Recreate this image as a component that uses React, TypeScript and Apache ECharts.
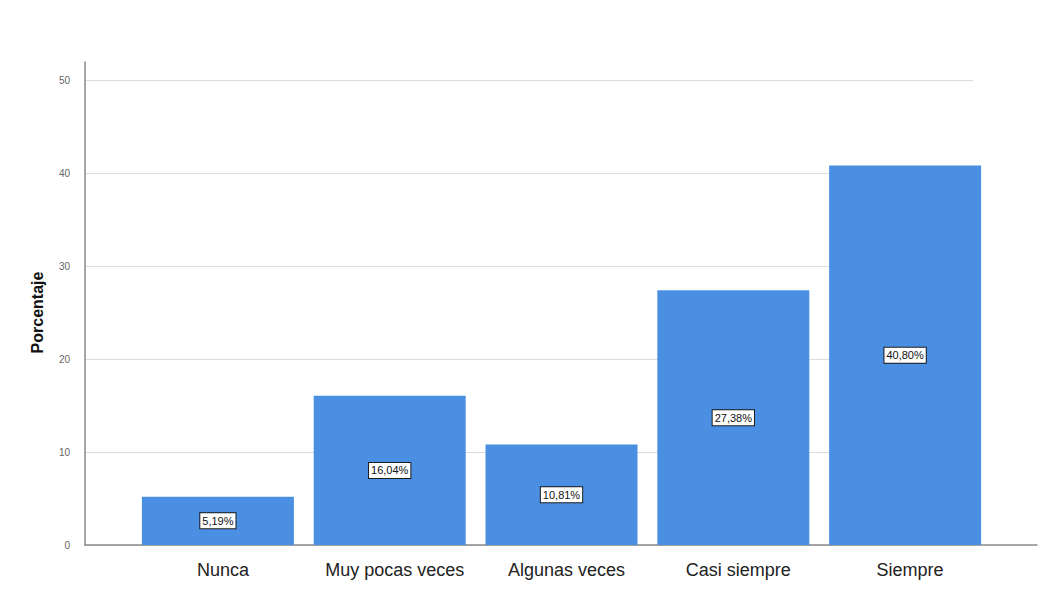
import React, { useEffect, useRef } from "react";
import * as echarts from "echarts";

const categories = ["Nunca", "Muy pocas veces", "Algunas veces", "Casi siempre", "Siempre"];
const percentages = [5.19, 16.04, 10.81, 27.38, 40.8];
const yTicks = { min: 0, max: 50, interval: 10 };

const FONT = "Liberation Sans, Arial, sans-serif";

export default function App() {
  const ref = useRef<HTMLDivElement>(null);
  useEffect(() => {
    if (!ref.current) return;
    const chart = echarts.init(ref.current, undefined, { renderer: "svg" });
    chart.setOption({
      animation: false,
      backgroundColor: "#ffffff",
      textStyle: { fontFamily: FONT },
      grid: [
        { left: 85, right: 75, top: 80, bottom: 49 },
        { left: 132, right: 57, top: 80, bottom: 49 },
        { left: 85, right: 11, top: 62, bottom: 49 },
      ],
      xAxis: [
        { type: "value", gridIndex: 0, min: 0, max: 1, show: false },
        {
          type: "category",
          gridIndex: 1,
          data: categories,
          axisLine: { show: false },
          axisTick: { show: false },
          axisLabel: {
            interval: 0,
            hideOverlap: false,
            fontSize: 18,
            color: "#222",
            margin: 16,
            fontFamily: FONT,
            padding: [0, 0, 0, 10],
          },
        },
        {
          type: "value",
          gridIndex: 2,
          min: 0,
          max: 1,
          axisLine: { show: true, lineStyle: { color: "#8a8a8a", width: 1.5 } },
          axisTick: { show: false },
          axisLabel: { show: false },
          splitLine: { show: false },
        },
      ],
      yAxis: [
        {
          type: "value",
          gridIndex: 0,
          min: yTicks.min,
          max: yTicks.max,
          interval: yTicks.interval,
          name: "Porcentaje",
          nameLocation: "middle",
          nameGap: 40,
          nameTextStyle: { fontSize: 16, fontWeight: "bold", color: "#111", fontFamily: FONT },
          axisLine: { show: false },
          axisTick: { show: false },
          axisLabel: { fontSize: 10, color: "#666", margin: 15, fontFamily: FONT },
          splitLine: { show: true, lineStyle: { color: "#dcdcdc", width: 1 } },
        },
        { type: "value", gridIndex: 1, min: yTicks.min, max: yTicks.max, show: false },
        {
          type: "value",
          gridIndex: 2,
          min: 0,
          max: 1,
          axisLine: { show: true, lineStyle: { color: "#8a8a8a", width: 1.5 } },
          axisTick: { show: false },
          axisLabel: { show: false },
          splitLine: { show: false },
        },
      ],
      series: [
        {
          type: "bar",
          xAxisIndex: 1,
          yAxisIndex: 1,
          data: percentages,
          barWidth: 152,
          itemStyle: { color: "#4a8fe2" },
          label: {
            show: true,
            position: "inside",
            formatter: (p: any) => p.value.toFixed(2).replace(".", ",") + "%",
            fontSize: 11,
            color: "#111",
            fontFamily: FONT,
            backgroundColor: "#ffffff",
            borderColor: "#1a1a1a",
            borderWidth: 1,
            padding: [2, 2],
          },
        },
      ],
    });
    return () => chart.dispose();
  }, []);
  return (
    <div
      ref={ref}
      style={{ position: "absolute", left: 0, top: 0, width: 1048, height: 594 }}
    />
  );
}
